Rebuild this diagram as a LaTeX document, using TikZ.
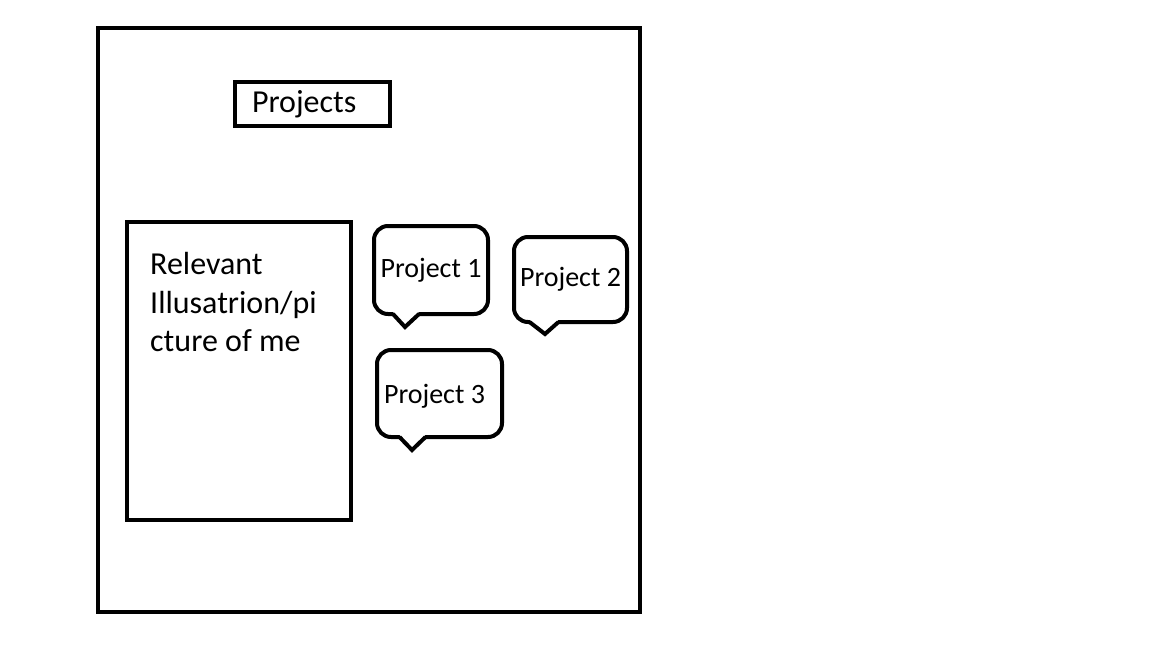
\documentclass[tikz,border=0pt]{standalone}
\usepackage{fontspec}
\setmainfont{Carlito}
\usetikzlibrary{calc}
\begin{document}
\begin{tikzpicture}[x=1pt,y=-1pt,
  frame/.style={draw=black,line width=4pt},
  bubble/.style={draw=black,line width=4pt,rounded corners=14pt,inner sep=0pt,outer sep=0pt,font=\fontsize{28}{34}\selectfont},
  tail/.style={draw=black,line width=4pt,line join=miter},
  big/.style={font=\fontsize{32}{38.5}\selectfont}]
\useasboundingbox[fill=white] (0,0) rectangle (1152,648);
% outer frame
\node[frame,minimum width=542pt,minimum height=584pt,inner sep=0pt] (outer) at (369,320) {};
% Projects title
\node[frame,big,minimum width=155pt,minimum height=44pt,inner xsep=17pt,inner ysep=0pt,text width=121pt,align=left] (title) at (312.5,104) {Projects};
% picture box
\node[frame,minimum width=224pt,minimum height=298pt,inner sep=0pt] (pic) at (239,371) {};
\node[big,anchor=north west,inner sep=0pt,align=left] (pictext) at (150,252.5) {Relevant\\Illusatrion/pi\\cture of me};
% bubbles
\node[bubble,minimum width=114pt,minimum height=88pt] (p1) at (431,270) {Project 1};
\node[bubble,minimum width=113pt,minimum height=85pt] (p2) at (570.5,279.5) {Project 2};
\node[bubble,minimum width=125pt,minimum height=87pt] (p3) at (439.5,393.5) {\hspace*{-10pt}\smash{\raisebox{-10pt}{Project 3}}};
% tails
\foreach \n/\a/\t/\b/\d in {p1/-38/-26/-12/13, p2/-41/-25.5/-12/12, p3/-40/-27.5/-14/13}{
  \coordinate (\n-tl) at ($(\n.south)+(\a,0)$);
  \coordinate (\n-tt) at ($(\n.south)+(\t,\d)$);
  \coordinate (\n-tr) at ($(\n.south)+(\b,0)$);
  \fill[white] ($(\n-tl)+(0,-2.3)$) -- ($(\n-tr)+(0,-2.3)$) -- (\n-tt) -- cycle;
  \draw[tail] (\n-tl) -- (\n-tt) -- (\n-tr);
}
\end{tikzpicture}
\end{document}
